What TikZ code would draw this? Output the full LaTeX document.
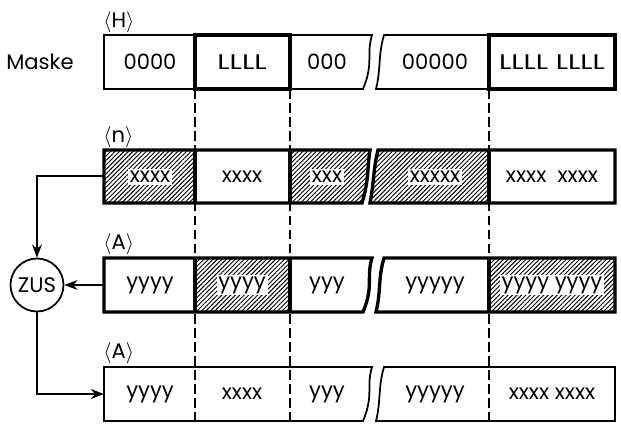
\documentclass[tikz,border=0pt]{standalone}
\usepackage{fontspec}
\setmainfont{Poppins}
\usetikzlibrary{arrows.meta,patterns.meta}
\newcommand\wideL[1]{\scalebox{1.35}[1]{#1}}

\begin{document}
\begin{tikzpicture}[x=0.02cm, y=-0.02cm, >=Stealth,
  font=\fontsize{12}{14}\selectfont,
  thinline/.style={line width=1pt},
  thickline/.style={line width=1.9pt},
  hatched/.style={pattern={Lines[angle=45,distance=1.8pt,line width=0.55pt]}},
  celltext/.style={fill=white, inner sep=1pt},
  regname/.style={anchor=base west, inner sep=0pt}]
  \useasboundingbox (0,0) rectangle (621,423);

  % hatched cells
  \fill[hatched] (104,150) rectangle (195,203);
  \fill[hatched] (290,150) -- (370,150) .. controls (367,170) and (369,180) .. (362,203) -- (290,203) -- cycle;
  \fill[hatched] (370,203) .. controls (374,183) and (373,170) .. (378,150) -- (489,150) -- (489,203) -- cycle;
  \fill[hatched] (195,258) rectangle (290,312);
  \fill[hatched] (489,258) rectangle (615,312);

  % column borders
  \foreach \x in {195,290,489}
    \draw[thinline, dash pattern=on 5.5pt off 2.5pt] (\x,89) -- (\x,421);

  % rows
  \foreach \t/\lw in {35/1pt, 258/1.9pt, 367/1pt} {
    \draw[line width=\lw] (104,\t) -- (372,\t) .. controls (366,\t+20) and (374,\t+28) .. (363,\t+54) -- (104,\t+54) -- cycle;
    \draw[line width=\lw] (376,\t+54) .. controls (381,\t+34) and (378,\t+20) .. (384,\t) -- (615,\t) -- (615,\t+54) -- cycle;
  }
  \draw[thickline] (104,150) -- (370,150) .. controls (367,170) and (369,180) .. (362,203) -- (104,203) -- cycle;
  \draw[thickline] (370,203) .. controls (374,183) and (373,170) .. (378,150) -- (615,150) -- (615,203) -- cycle;
  \draw[thickline] (195,35) rectangle (290,89);
  \draw[thickline] (489,35) rectangle (615,89);
  \foreach \t in {150,258}
    \foreach \x in {195,290,489}
      \draw[thickline] (\x,\t) -- (\x,\t+54);

  % register names
  \node[regname] (regH) at (103,27) {$\langle$H$\rangle$};
  \node[regname] (regN) at (103,142) {$\langle$n$\rangle$};
  \node[regname] (regA) at (103,249) {$\langle$A$\rangle$};
  \node[regname] (regR) at (103,358) {$\langle$A$\rangle$};
  \node (maske) at (40,62) {Maske};

  % contents
  \foreach \x/\txt [count=\i] in {150/0000, 242/\wideL{LLLL}, 327/000, 435/00000, 552/\wideL{LLLL LLLL}}
    \node[celltext] (h\i) at (\x,62) {\txt};
  \foreach \x/\txt [count=\i] in {150/xxxx, 242/xxxx, 327/xxx, 435/xxxxx, 552/xxxx\ \ xxxx}
    \node[celltext] (n\i) at (\x,177) {\txt};
  \foreach \x/\txt [count=\i] in {150/yyyy, 242/yyyy, 327/yyy, 435/yyyyy, 552/yyyy yyyy}
    \node[celltext] (a\i) at (\x,285) {\txt};
  \foreach \x/\txt [count=\i] in {150/yyyy, 242/xxxx, 327/yyy, 435/yyyyy, 552/xxxx xxxx}
    \node[celltext] (r\i) at (\x,394) {\txt};

  % ZUS
  \node[draw, circle, thinline, minimum size=1.06cm, inner sep=0pt] (zus) at (37,285) {ZUS};
  \coordinate (nin) at (104,176);
  \coordinate (ain) at (104,285);
  \coordinate (rin) at (104,394);
  \draw[thinline, ->] (nin) -| (zus);
  \draw[thinline, ->] (ain) -- (zus);
  \draw[thinline, ->] (zus) |- (rin);
\end{tikzpicture}
\end{document}
